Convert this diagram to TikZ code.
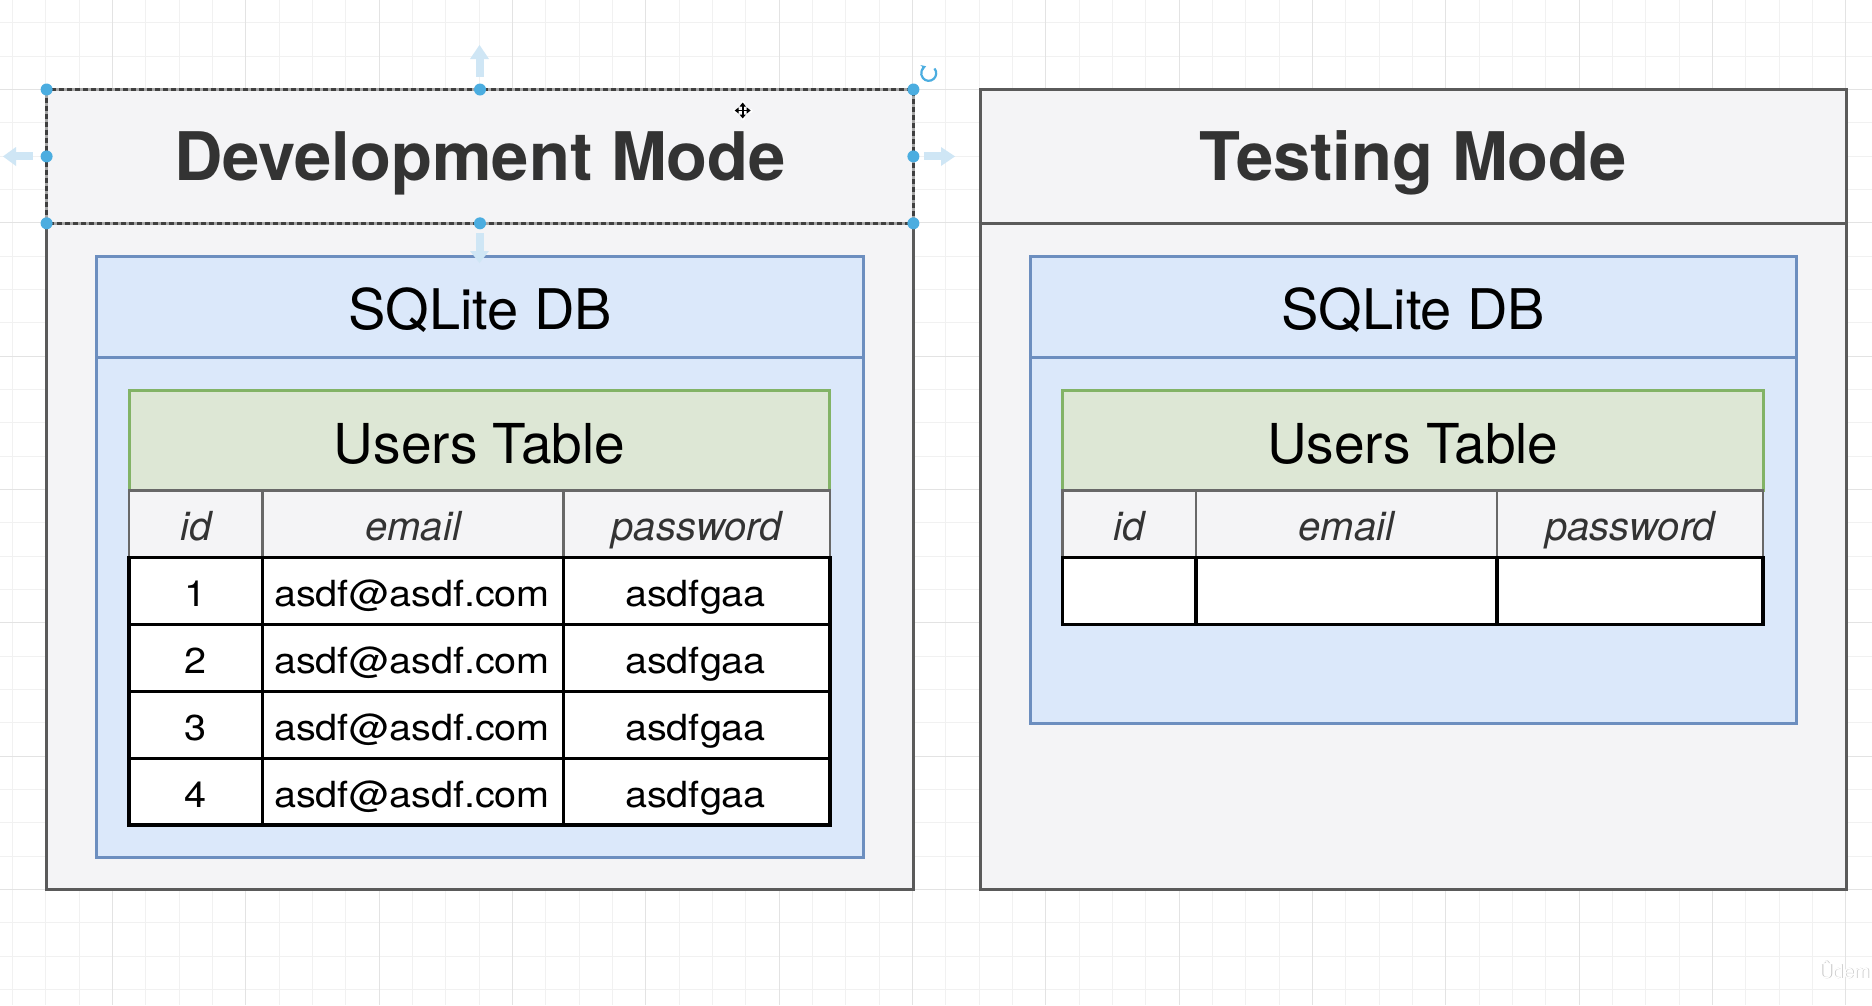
\documentclass[tikz,border=0pt]{standalone}
\usepackage{fontspec}
\setmainfont{TeX Gyre Heros}
\newfontfamily\datafont[FakeStretch=1.1]{TeX Gyre Heros}
\usetikzlibrary{arrows.meta}

\definecolor{gridminor}{HTML}{F1F1F1}
\definecolor{gridmajor}{HTML}{E3E3E3}
\definecolor{panelfill}{HTML}{F4F4F6}
\definecolor{panelline}{HTML}{5A5A5A}
\definecolor{dbfill}{HTML}{DBE8FA}
\definecolor{dbline}{HTML}{6C8EBF}
\definecolor{tblfill}{HTML}{DDE7D5}
\definecolor{tblline}{HTML}{82B366}
\definecolor{colfill}{HTML}{F4F4F6}
\definecolor{colline}{HTML}{686868}
\definecolor{titlegray}{HTML}{333333}
\definecolor{handle}{HTML}{4BADE0}
\definecolor{hint}{HTML}{CFE6F5}

\begin{document}
\begin{tikzpicture}[x=1pt, y=-1pt,
  box/.style={draw, rectangle, inner sep=0pt, outer sep=0pt, anchor=north west},
  panelbox/.style={box, fill=panelfill, draw=panelline, line width=3pt},
  dbbox/.style={box, fill=dbfill, draw=dbline, line width=3pt},
  tblhead/.style={box, fill=tblfill, draw=tblline, line width=3pt},
  colcell/.style={box, fill=colfill, draw=colline, line width=2.5pt, minimum height=66.9pt},
  datacell/.style={box, fill=white, draw=black, line width=3.5pt, minimum height=66.9pt},
  label/.style={inner sep=0pt, anchor=base},
  modetitle/.style={label, text=titlegray, font=\fontsize{67}{70}\selectfont\bfseries},
  dbtitle/.style={label, text=black, font=\fontsize{56}{60}\selectfont},
  tbltitle/.style={label, text=black, font=\fontsize{55}{60}\selectfont},
  coltitle/.style={label, text=titlegray, font=\fontsize{40}{44}\selectfont\itshape},
  datatext/.style={label, text=black, font=\datafont\fontsize{36}{40}\selectfont},
  handledot/.style={fill=handle, draw=none},
  hintarrow/.style={fill=hint, draw=none},
  marktext/.style={inner sep=0pt, anchor=base west, font=\fontsize{19}{22}\selectfont}
]
\useasboundingbox (0,0) rectangle (1872,1005);
\fill[white] (0,0) rectangle (1872,1005);

% background grid
\foreach \i in {0,...,55}
  \draw[gridminor, line width=1pt] ({12.5+33.333*\i},0) -- ({12.5+33.333*\i},1005);
\foreach \j in {0,...,29}
  \draw[gridminor, line width=1pt] (0,{22.83+33.333*\j}) -- (1872,{22.83+33.333*\j});
\foreach \i in {0,...,13}
  \draw[gridmajor, line width=1.2pt] ({112.5+133.333*\i},0) -- ({112.5+133.333*\i},1005);
\foreach \j in {0,...,6}
  \draw[gridmajor, line width=1.2pt] (0,{89.5+133.333*\j}) -- (1872,{89.5+133.333*\j});

% ---------- Development panel (header is selected) ----------
\node[box, fill=panelfill, draw=none, minimum width=866.8pt, minimum height=800pt] (devpanel) at (46.6,89.5) {};
\draw[panelline, line width=3pt] (devpanel.west |- 0,223.3) -- (devpanel.south west)
  -- (devpanel.south east) -- (devpanel.east |- 0,223.3);
\node[box, draw=none, minimum width=866.8pt, minimum height=133.8pt] (devhead) at (46.6,89.5) {};
\draw[gray!70, line width=2.8pt] (devhead.north west) rectangle (devhead.south east);
\draw[black!75, line width=2.8pt, dash pattern=on 5pt off 3pt] (devhead.north west) rectangle (devhead.south east);
\node[modetitle] (devtitle) at (480,180) {Development Mode};

\node[dbbox, minimum width=766.5pt, minimum height=600.5pt] (devdb) at (96.7,256.7) {};
\draw[dbline, line width=3pt] (devdb.west |- 0,357) -- (devdb.east |- 0,357);
\node[dbtitle] (devdbtitle) at (480,329) {SQLite DB};

\node[tblhead, minimum width=700.8pt, minimum height=100.3pt] (devtbl) at (129,390.4) {};
\node[tbltitle] (devtbltitle) at (479.4,463) {Users Table};

\node[colcell, minimum width=133.7pt] (devcolid) at (129,490.7) {};
\node[colcell, minimum width=300.8pt] (devcolemail) at (262.7,490.7) {};
\node[colcell, minimum width=266.3pt] (devcolpw) at (563.5,490.7) {};
\node[coltitle] (devhid) at (196,540.5) {id};
\node[coltitle] (devhemail) at (413.1,540.5) {email};
\node[coltitle] (devhpw) at (696.7,540.5) {password};

\foreach \r in {1,...,4} {
  \pgfmathsetmacro{\rowtop}{557.6+66.88*(\r-1)}
  \node[datacell, minimum width=133.7pt] (devid\r) at (129,\rowtop) {};
  \node[datacell, minimum width=300.8pt] (devemail\r) at (262.7,\rowtop) {};
  \node[datacell, minimum width=266.3pt] (devpw\r) at (563.5,\rowtop) {};
  \node[datatext] (devidtxt\r) at (196,\rowtop+49.3) {\r};
  \node[datatext] (devemailtxt\r) at (412,\rowtop+49.3) {asdf@asdf.com};
  \node[datatext] (devpwtxt\r) at (695.5,\rowtop+49.3) {asdfgaa};
}

% selection handles and hints around the Development header
\fill[hintarrow] (475.5,58) rectangle (483.5,77);
\fill[hintarrow] (470,59) -- (479.5,45) -- (489,59) -- cycle;
\fill[hintarrow] (475.5,233) rectangle (483.5,252);
\fill[hintarrow] (470,251) -- (479.5,263) -- (489,251) -- cycle;
\fill[hintarrow] (15,152.4) rectangle (33,160.4);
\fill[hintarrow] (16,147) -- (3,156.4) -- (16,166) -- cycle;
\fill[hintarrow] (924,152.4) rectangle (942,160.4);
\fill[hintarrow] (941,147) -- (955,156.4) -- (941,166) -- cycle;
\foreach \p in {north west, north, north east, west, east, south west, south, south east}
  \fill[handledot] (devhead.\p) circle (6pt);
\coordinate (rot) at (928.7,73.3);
\draw[handle, line width=2.2pt, -{Stealth[length=5pt,width=6pt]}]
  (rot) ++(-40:7.5) arc[start angle=-40, end angle=250, radius=7.5];
% move cursor
\coordinate (mv) at (742.7,110.5);
\foreach \d in {(0,-8),(0,8),(-8,0),(8,0)}
  \draw[white, line width=4pt, line cap=round] (mv) -- ++\d;
\foreach \d in {(0,-8),(0,8),(-8,0),(8,0)}
  \draw[black, line width=1.8pt, -{Triangle[length=4pt,width=6pt]}] (mv) -- ++\d;

% ---------- Testing panel ----------
\begin{scope}[xshift=933.4pt]
\node[panelbox, minimum width=866.8pt, minimum height=800pt] (testpanel) at (46.6,89.5) {};
\draw[panelline, line width=3pt] (testpanel.west |- 0,223.3) -- (testpanel.east |- 0,223.3);
\node[modetitle] (testtitle) at (480,180) {Testing Mode};

\node[dbbox, minimum width=766.5pt, minimum height=466.8pt] (testdb) at (96.7,256.7) {};
\draw[dbline, line width=3pt] (testdb.west |- 0,357) -- (testdb.east |- 0,357);
\node[dbtitle] (testdbtitle) at (480,329) {SQLite DB};

\node[tblhead, minimum width=700.8pt, minimum height=100.3pt] (testtbl) at (129,390.4) {};
\node[tbltitle] (testtbltitle) at (479.4,463) {Users Table};

\node[colcell, minimum width=133.7pt] (testcolid) at (129,490.7) {};
\node[colcell, minimum width=300.8pt] (testcolemail) at (262.7,490.7) {};
\node[colcell, minimum width=266.3pt] (testcolpw) at (563.5,490.7) {};
\node[coltitle] (testhid) at (196,540.5) {id};
\node[coltitle] (testhemail) at (413.1,540.5) {email};
\node[coltitle] (testhpw) at (696.7,540.5) {password};

\node[datacell, minimum width=133.7pt] (testid1) at (129,557.6) {};
\node[datacell, minimum width=300.8pt] (testemail1) at (262.7,557.6) {};
\node[datacell, minimum width=266.3pt] (testpw1) at (563.5,557.6) {};
\end{scope}

% watermark in the corner
\node[marktext, text=gray!45] (wmshadow) at (1819.8,978.8) {Ûdem};
\node[marktext, text=white] (wm) at (1819,978) {Ûdem};
\end{tikzpicture}
\end{document}
